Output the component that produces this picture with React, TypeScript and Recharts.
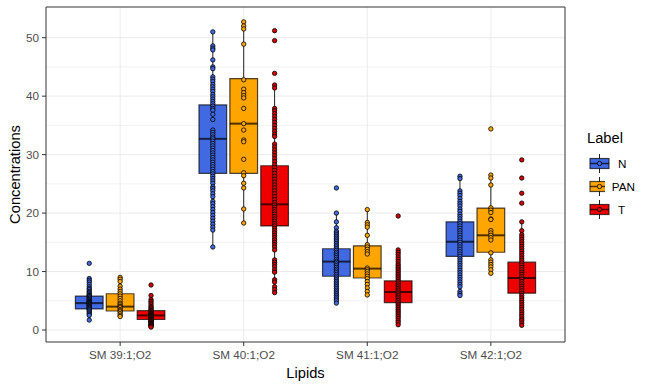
import React from 'react';
import {
  ComposedChart,
  Scatter,
  XAxis,
  YAxis,
  CartesianGrid,
  ReferenceArea,
  ReferenceLine,
  Legend,
  Label,
} from 'recharts';

const FONT = '"Liberation Sans", Arial, sans-serif';

const lipids = ['SM 39:1;O2', 'SM 40:1;O2', 'SM 41:1;O2', 'SM 42:1;O2'];
const labels = ['N', 'PAN', 'T'];
const colors = ['#4169E1', '#FFA500', '#EE0000'];
const pointColors = ['#4169E1', '#FFA500', '#D40000'];

const yTicks = [0, 10, 20, 30, 40, 50];
const yMinorTicks = [5, 15, 25, 35, 45];

// Observed values per lipid (N)
const nValues = [
  [11.4, 8.8, 8.5, 8.2, 7.8, 7.4, 7.1, 6.9, 6.6, 6.4, 6.2, 6.0, 5.9, 5.8, 5.7, 5.5, 5.4, 5.2, 5.1, 5.0, 4.9, 4.8, 4.7, 4.6, 4.6, 4.5, 4.4, 4.3, 4.2, 4.1, 4.0, 3.9, 3.8, 3.7, 3.6, 3.5, 3.3, 3.1, 2.9, 2.7, 2.5, 1.7],
  [51.0, 48.6, 48.2, 47.9, 46.2, 45.0, 44.7, 43.3, 42.9, 42.5, 42.0, 41.6, 41.2, 40.8, 40.3, 39.9, 39.5, 39.1, 38.7, 38.3, 37.9, 37.6, 36.9, 36.0, 34.2, 33.8, 33.4, 33.0, 32.7, 32.3, 31.9, 31.5, 31.1, 30.7, 30.3, 29.9, 29.5, 29.1, 28.7, 28.3, 27.9, 27.5, 27.1, 26.7, 26.3, 25.9, 25.5, 25.1, 24.5, 24.2, 23.8, 23.3, 22.8, 22.0, 21.6, 21.1, 20.6, 20.1, 19.6, 19.1, 18.6, 18.1, 17.6, 17.1, 14.2],
  [24.3, 20.0, 18.5, 17.5, 16.9, 16.6, 16.3, 16.0, 15.7, 15.4, 15.1, 14.8, 14.5, 14.2, 13.9, 13.6, 13.3, 13.0, 12.7, 12.4, 12.1, 11.8, 11.6, 11.3, 11.0, 10.7, 10.4, 10.1, 9.8, 9.5, 9.2, 8.9, 8.6, 8.3, 8.0, 7.7, 7.4, 7.1, 6.8, 6.5, 6.2, 5.9, 5.6, 5.3, 5.0, 4.6],
  [26.3, 25.9, 23.8, 23.4, 23.0, 22.5, 22.0, 21.6, 21.2, 20.7, 20.3, 19.8, 19.4, 19.0, 18.6, 18.2, 17.8, 17.4, 17.0, 16.6, 16.2, 15.8, 15.4, 15.0, 14.6, 14.2, 13.8, 13.4, 13.0, 12.6, 12.2, 11.8, 11.4, 11.0, 10.6, 10.2, 9.8, 9.4, 9.0, 8.6, 8.2, 7.8, 7.4, 6.6, 6.2, 5.9],
];

// Observed values per lipid (PAN)
const panValues = [
  [9.0, 8.7, 8.3, 7.5, 7.0, 6.6, 6.2, 5.8, 5.4, 5.0, 4.6, 4.4, 4.1, 4.0, 3.8, 3.5, 3.3, 3.1, 2.8, 2.5, 2.3],
  [52.7, 52.0, 51.5, 48.9, 42.8, 41.2, 40.6, 40.1, 39.7, 37.9, 35.3, 34.2, 32.5, 32.2, 29.2, 26.9, 26.4, 25.1, 24.3, 20.7, 18.3],
  [20.6, 18.4, 18.0, 17.6, 16.2, 14.6, 14.2, 13.8, 13.4, 13.0, 10.6, 10.3, 10.0, 9.6, 9.2, 8.8, 8.3, 7.8, 7.2, 6.6, 6.0],
  [34.4, 26.5, 26.0, 24.8, 20.9, 20.5, 20.1, 19.0, 18.9, 17.0, 16.6, 16.2, 15.8, 15.4, 13.2, 12.0, 11.6, 11.2, 10.8, 10.3, 9.7],
];

// Observed values per lipid (T)
const tValues = [
  [7.7, 5.9, 5.2, 4.9, 4.6, 4.3, 4.0, 3.8, 3.6, 3.4, 3.3, 3.2, 3.0, 2.9, 2.8, 2.7, 2.6, 2.5, 2.5, 2.4, 2.3, 2.2, 2.1, 2.0, 1.9, 1.8, 1.7, 1.6, 1.5, 1.4, 1.3, 1.2, 1.1, 1.0, 0.9, 0.8, 0.7, 0.6, 0.5],
  [51.2, 49.5, 43.9, 41.9, 41.4, 37.9, 37.5, 37.0, 36.5, 36.0, 35.5, 35.0, 34.5, 34.0, 33.5, 33.1, 31.8, 31.3, 30.8, 30.3, 29.8, 29.3, 28.8, 28.3, 27.8, 27.3, 26.8, 26.3, 25.8, 25.3, 24.8, 24.3, 23.8, 23.3, 22.8, 22.3, 21.8, 21.4, 21.0, 20.6, 20.2, 19.8, 19.4, 19.0, 18.6, 18.2, 17.8, 17.4, 17.0, 16.6, 16.2, 15.8, 15.4, 15.0, 14.6, 14.2, 13.7, 12.0, 11.6, 11.2, 10.8, 10.3, 9.9, 8.6, 8.2, 7.4, 6.9, 6.4],
  [19.5, 13.7, 13.3, 12.9, 12.5, 12.1, 11.7, 11.3, 11.0, 10.7, 10.4, 10.1, 9.8, 9.5, 9.2, 8.9, 8.6, 8.3, 8.0, 7.7, 7.4, 7.1, 6.8, 6.5, 6.2, 5.9, 5.6, 5.3, 5.0, 4.7, 4.4, 4.1, 3.8, 3.5, 3.2, 2.9, 2.6, 2.3, 2.0, 1.6, 1.3, 0.9],
  [29.1, 26.0, 23.4, 21.7, 18.5, 17.0, 16.3, 15.9, 15.5, 15.1, 14.7, 14.3, 13.9, 13.5, 13.1, 12.7, 12.3, 11.9, 11.5, 11.1, 10.7, 10.3, 9.9, 9.5, 9.1, 8.7, 8.3, 7.9, 7.5, 7.1, 6.7, 6.3, 5.9, 5.5, 5.1, 4.7, 4.3, 3.9, 3.5, 3.1, 2.7, 2.3, 1.9, 1.6, 1.2, 0.8],
];

// Box statistics: [lower whisker, Q1, median, Q3, upper whisker]
const nBox = [
  [1.7, 3.6, 4.6, 5.8, 8.8],
  [14.2, 26.8, 32.7, 38.5, 51.0],
  [4.6, 9.2, 11.7, 13.9, 20.0],
  [5.9, 12.6, 15.1, 18.5, 26.3],
];
const panBox = [
  [2.3, 3.25, 4.0, 6.2, 9.0],
  [18.3, 26.8, 35.3, 43.0, 52.7],
  [6.0, 8.9, 10.5, 14.4, 20.6],
  [9.7, 13.3, 16.2, 20.85, 26.5],
];
const tBox = [
  [0.5, 1.8, 2.5, 3.3, 5.2],
  [6.4, 17.8, 21.5, 28.1, 41.9],
  [0.9, 4.7, 6.5, 8.4, 13.7],
  [0.8, 6.3, 8.9, 11.6, 18.5],
];

const DODGE = 0.25;
const HALF_BOX = 0.112;

const groups = labels.map((label, j) => ({
  label,
  color: colors[j],
  pointColor: pointColors[j],
  values: [nValues, panValues, tValues][j],
  box: [nBox, panBox, tBox][j],
}));

const pointData = groups.map((g, j) =>
  g.values.flatMap((vals, i) => vals.map((v) => ({ x: i + 1 + (j - 1) * DODGE, y: v })))
);

const boxData = groups.flatMap((g, j) =>
  g.box.map((b, i) => ({
    key: `${j}-${i}`,
    x: i + 1 + (j - 1) * DODGE,
    lo: b[0],
    q1: b[1],
    med: b[2],
    q3: b[3],
    hi: b[4],
    color: g.color,
  }))
);

const makeDot = (color: string) => (props: any) => {
  const { cx, cy } = props;
  if (cx == null || cy == null) return <g />;
  return <circle cx={cx} cy={cy} r={2.2} fill={color} stroke="#000" strokeWidth={0.8} />;
};

const renderLegend = () => (
  <div
    style={{
      width: 70,
      paddingLeft: 22,
      boxSizing: 'border-box',
      fontFamily: FONT,
      color: '#000',
    }}
  >
    <div style={{ fontSize: 14.7, lineHeight: '18px', marginBottom: 5 }}>Label</div>
    {groups.map((g) => (
      <div key={g.label} style={{ display: 'flex', alignItems: 'center', height: 23 }}>
        <svg width={24} height={23} style={{ display: 'block' }}>
          <line x1={12.5} x2={12.5} y1={2} y2={21} stroke="#222" strokeWidth={1} />
          <rect x={3} y={6.5} width={19} height={10} fill={g.color} stroke="rgba(0,0,0,0.7)" strokeWidth={1.2} />
          <line x1={3} x2={22} y1={11.5} y2={11.5} stroke="rgba(0,0,0,0.7)" strokeWidth={1.5} />
          <circle cx={12.5} cy={11.5} r={2.2} fill={g.pointColor} stroke="#000" strokeWidth={0.8} />
        </svg>
        <span style={{ marginLeft: 7, fontSize: 11.7, lineHeight: '14px' }}>{g.label}</span>
      </div>
    ))}
  </div>
);

export default function App() {
  return (
    <div style={{ position: 'absolute', left: 0, top: 0, width: 656, height: 388, background: '#fff', fontFamily: FONT }}>
      <ComposedChart width={656} height={388} margin={{ top: 7, right: 21, bottom: 0, left: 0 }}>
        <CartesianGrid horizontalValues={yMinorTicks} vertical={false} stroke="#F2F2F2" strokeWidth={1} />
        <CartesianGrid horizontalValues={yTicks} verticalValues={[1, 2, 3, 4]} stroke="#EBEBEB" strokeWidth={1} />
        <XAxis
          type="number"
          dataKey="x"
          domain={[0.4, 4.6]}
          ticks={[1, 2, 3, 4]}
          interval={0}
          allowDataOverflow
          tickFormatter={(v: number) => lipids[Math.round(v) - 1]}
          height={46}
          axisLine={false}
          tickLine={{ stroke: '#333333' }}
          tickSize={4}
          tickMargin={5}
          tick={{ fill: '#4D4D4D', fontSize: 11.7, fontFamily: FONT }}
        >
          <Label value="Lipids" position="insideBottom" offset={10} fill="#000" fontSize={14.7} fontFamily={FONT} />
        </XAxis>
        <YAxis
          type="number"
          domain={[-2.05, 55.25]}
          ticks={yTicks}
          interval={0}
          allowDataOverflow
          width={46}
          axisLine={false}
          tickLine={{ stroke: '#333333' }}
          tickSize={4}
          tickMargin={3}
          tick={{ fill: '#4D4D4D', fontSize: 11.7, fontFamily: FONT }}
        >
          <Label
            value="Concentrations"
            angle={-90}
            position="insideLeft"
            offset={15}
            fill="#000"
            fontSize={14.7}
            fontFamily={FONT}
            style={{ textAnchor: 'middle' }}
          />
        </YAxis>

        {boxData.map((b) => (
          <ReferenceLine
            key={`wl-${b.key}`}
            segment={[{ x: b.x, y: b.lo }, { x: b.x, y: b.q1 }]}
            stroke="#222"
            strokeWidth={1}
          />
        ))}
        {boxData.map((b) => (
          <ReferenceLine
            key={`wh-${b.key}`}
            segment={[{ x: b.x, y: b.q3 }, { x: b.x, y: b.hi }]}
            stroke="#222"
            strokeWidth={1}
          />
        ))}
        {boxData.map((b) => (
          <ReferenceArea
            key={`bx-${b.key}`}
            x1={b.x - HALF_BOX}
            x2={b.x + HALF_BOX}
            y1={b.q1}
            y2={b.q3}
            fill={b.color}
            fillOpacity={1}
            stroke="#000"
            strokeOpacity={0.7}
            strokeWidth={1.2}
          />
        ))}
        {boxData.map((b) => (
          <ReferenceLine
            key={`md-${b.key}`}
            segment={[{ x: b.x - HALF_BOX, y: b.med }, { x: b.x + HALF_BOX, y: b.med }]}
            stroke="#000"
            strokeOpacity={0.7}
            strokeWidth={2}
          />
        ))}

        {groups.map((g, j) => (
          <Scatter
            key={`sc-${g.label}`}
            name={g.label}
            data={pointData[j]}
            dataKey="y"
            fill={g.pointColor}
            shape={makeDot(g.pointColor)}
            isAnimationActive={false}
          />
        ))}

        <ReferenceArea
          x1={0.4}
          x2={4.6}
          y1={-2.05}
          y2={55.25}
          fill="none"
          fillOpacity={0}
          stroke="#333333"
          strokeWidth={1}
          ifOverflow="visible"
        />

        <Legend
          layout="vertical"
          align="right"
          verticalAlign="middle"
          width={70}
          content={renderLegend}
          wrapperStyle={{ top: 129 }}
        />
      </ComposedChart>
    </div>
  );
}
